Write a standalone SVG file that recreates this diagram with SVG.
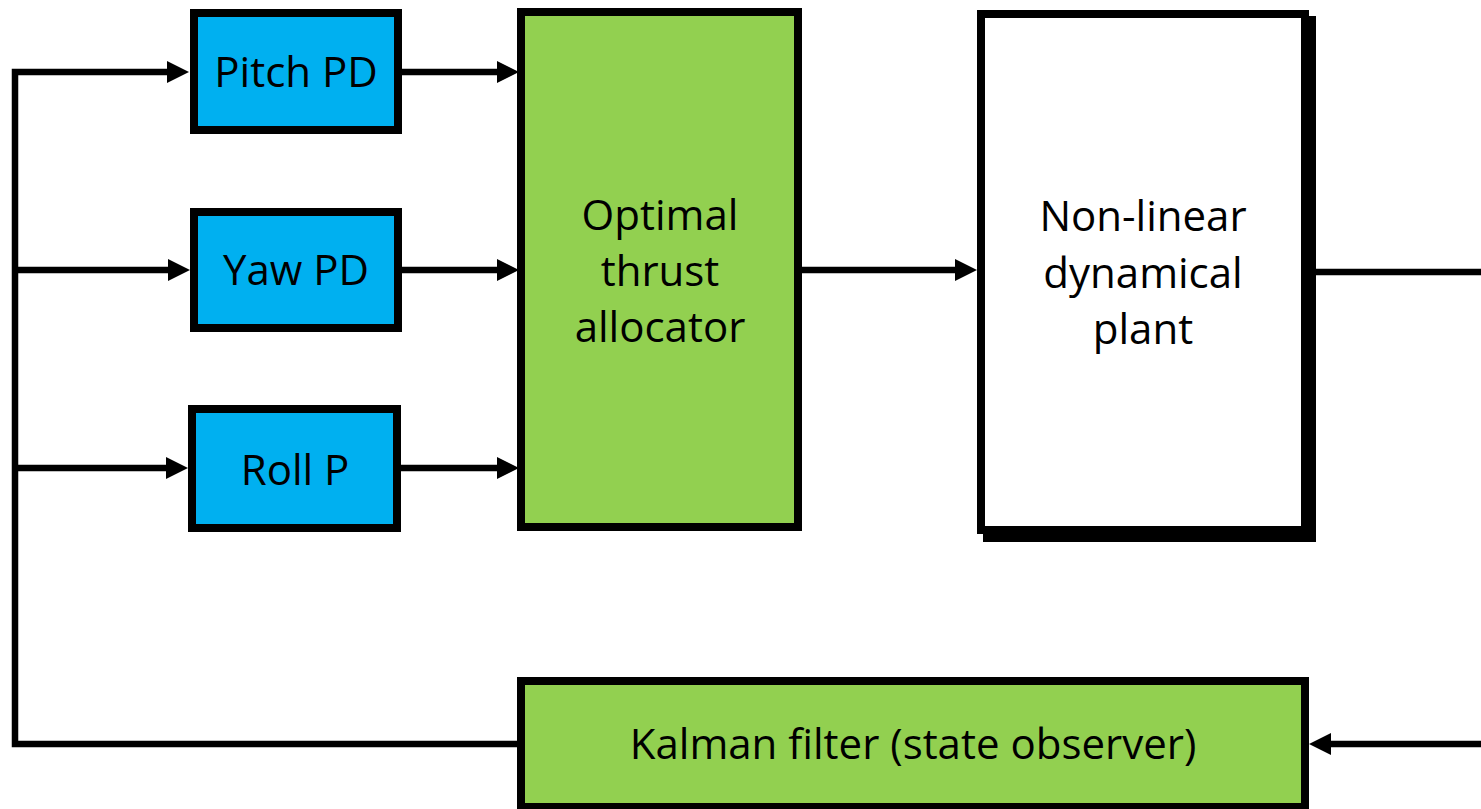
<svg xmlns="http://www.w3.org/2000/svg" width="1481" height="809" viewBox="0 0 1481 809">
<style>
.box{stroke:#000;stroke-width:8}
.blue{fill:#00B0F0}
.green{fill:#92D050}
.white{fill:#fff}
.lbl{font-family:"Open Sans","Noto Sans",sans-serif;font-size:42px;fill:#000;text-anchor:middle}
.con{fill:none;stroke:#000;stroke-width:6.5}
</style>
<defs>
<marker id="arr" viewBox="0 0 22 22" markerWidth="22" markerHeight="22" refX="0" refY="11" orient="auto" markerUnits="userSpaceOnUse">
<path d="M0,0 L22,11 L0,22 Z" fill="#000"/>
</marker>
</defs>
<rect width="1481" height="809" fill="#fff"/>
<g id="connectors">
<path class="con" d="M517,744 L15,744 L15,72 L167,72" marker-end="url(#arr)"/>
<path class="con" d="M15,270 L168,270" marker-end="url(#arr)"/>
<path class="con" d="M15,468 L166,468" marker-end="url(#arr)"/>
<path class="con" d="M402,72 L497,72" marker-end="url(#arr)"/>
<path class="con" d="M402,270 L497,270" marker-end="url(#arr)"/>
<path class="con" d="M401,468 L497,468" marker-end="url(#arr)"/>
<path class="con" d="M802,270 L955,270" marker-end="url(#arr)"/>
<path class="con" d="M1316,272 L1481,272"/>
<path class="con" d="M1481,744 L1331,744" marker-end="url(#arr)"/>
</g>
<g id="pitch">
<rect class="box blue" x="194" y="13" width="204" height="117"/>
<text class="lbl" x="296" y="87">Pitch PD</text>
</g>
<g id="yaw">
<rect class="box blue" x="194" y="212" width="204" height="116"/>
<text class="lbl" x="296" y="285">Yaw PD</text>
</g>
<g id="roll">
<rect class="box blue" x="192" y="409" width="205" height="119"/>
<text class="lbl" x="295" y="485">Roll P</text>
</g>
<g id="allocator">
<rect class="box green" x="521" y="12" width="277" height="515"/>
<text class="lbl" x="660" y="230">Optimal</text>
<text class="lbl" x="660" y="286">thrust</text>
<text class="lbl" x="660" y="342">allocator</text>
</g>
<g id="plant">
<rect x="983" y="16" width="333" height="526" fill="#000"/>
<rect class="box white" x="981" y="14" width="324" height="516"/>
<text class="lbl" x="1143" y="231">Non-linear</text>
<text class="lbl" x="1143" y="288">dynamical</text>
<text class="lbl" x="1143" y="344">plant</text>
</g>
<g id="kalman">
<rect class="box green" x="521" y="681" width="784" height="126"/>
<text class="lbl" x="913" y="759">Kalman filter (state observer)</text>
</g>
</svg>
